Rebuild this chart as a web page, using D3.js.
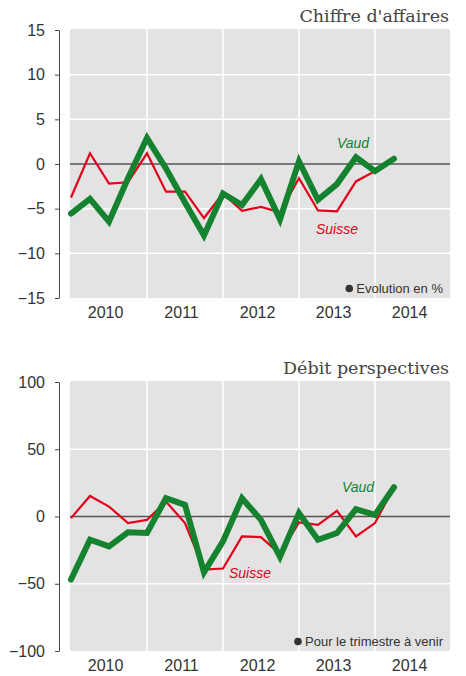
<!DOCTYPE html>
<html>
<head>
<meta charset="utf-8">
<script src="https://cdn.jsdelivr.net/npm/d3@7"></script>
<style>
  body { margin: 0; background: #fff; }
  svg { display: block; }
</style>
</head>
<body>
<svg width="466" height="676"></svg>
<script>
// Data (quarterly, 2010 Q1 .. 2014 Q2)
var years = ["2010", "2011", "2012", "2013", "2014"];

var caSuisse = [-3.75, 1.2, -2.2, -2.05, 1.2, -3.1, -3.1, -6.05, -3.3, -5.25, -4.8, -5.4, -1.6, -5.2, -5.3, -1.95, -0.8, 0.6];
var caVaud   = [-5.55, -3.9, -6.45, -1.6, 2.9, -0.5, -4.3, -8.0, -3.3, -4.6, -1.7, -6.2, 0.3, -4.0, -2.25, 0.75, -0.8, 0.6];
var caTicks  = [-15, -10, -5, 0, 5, 10, 15];

var dpSuisse = [-1.2, 15.3, 7.4, -4.9, -2.5, 11.1, -4.9, -39.5, -38.7, -14.8, -15.3, -28, -4.4, -6.2, 4.2, -14.8, -4.9, 21.8];
var dpVaud   = [-46.9, -17.3, -22.2, -11.8, -12.3, 13.6, 8.7, -41.5, -18.5, 13.6, -2.5, -30, 2.5, -17.3, -12.3, 5.5, 1.2, 21.8];
var dpTicks  = [-100, -50, 0, 50, 100];

var svg = d3.select("svg");

var green = "#15822f",
    red = "#e3001b";

var x = d3.scaleLinear()
  .domain([0, 19.95])
  .range([71, 450]);

function panel(opt) {
  var g = svg.append("g");
  var y = d3.scaleLinear().domain(opt.domain).range([opt.bottom, opt.top]);

  // grey background
  g.append("rect")
    .attr("x", 70).attr("y", opt.top - 1)
    .attr("width", 380).attr("height", opt.bottom - opt.top + 1)
    .attr("fill", "#e3e3e3");

  // horizontal grid
  g.selectAll(".hg")
    .data(opt.ticks.filter(function(t) { return t != 0 && t != opt.domain[0] && t != opt.domain[1]; }))
    .enter().append("line")
      .attr("x1", 70).attr("x2", 450)
      .attr("y1", function(d) { return y(d); })
      .attr("y2", function(d) { return y(d); })
      .attr("stroke", "#fff").attr("stroke-width", 1.5);

  // vertical grid at year starts
  g.selectAll(".vg")
    .data([1, 2, 3, 4])
    .enter().append("line")
      .attr("x1", function(d) { return x(d * 4); })
      .attr("x2", function(d) { return x(d * 4); })
      .attr("y1", opt.top - 1).attr("y2", opt.bottom)
      .attr("stroke", "#fff").attr("stroke-width", 1.5);

  // zero line
  g.append("line")
    .attr("x1", 70).attr("x2", 450)
    .attr("y1", y(0)).attr("y2", y(0))
    .attr("stroke", "#555").attr("stroke-width", 1.3);

  // y axis
  var axis = g.append("g")
    .attr("transform", "translate(59,0)")
    .call(d3.axisLeft(y).tickValues(opt.ticks).tickSize(4).tickSizeOuter(0).tickPadding(10));
  axis.select(".domain").attr("stroke", "#444");
  axis.selectAll(".tick line").attr("stroke", "#444");
  axis.selectAll("text")
    .attr("font-family", "Liberation Sans, Arial, sans-serif")
    .attr("font-size", 16)
    .attr("fill", "#333");

  // year labels
  g.selectAll(".yl")
    .data(years)
    .enter().append("text")
      .attr("x", function(d, i) { return x(i * 4 + 1.82); })
      .attr("y", opt.bottom + 20)
      .attr("text-anchor", "middle")
      .attr("font-family", "Liberation Sans, Arial, sans-serif")
      .attr("font-size", 16)
      .attr("fill", "#333")
      .text(function(d) { return d; });

  var line = d3.line()
    .x(function(d, i) { return x(i); })
    .y(function(d) { return y(d); });

  g.append("path")
    .datum(opt.suisse)
    .attr("d", line)
    .attr("fill", "none")
    .attr("stroke", red)
    .attr("stroke-width", 2.2)
    .attr("stroke-linejoin", "miter");

  g.append("path")
    .datum(opt.vaud)
    .attr("d", line)
    .attr("fill", "none")
    .attr("stroke", green)
    .attr("stroke-width", 6)
    .attr("stroke-linejoin", "miter")
    .attr("stroke-linecap", "round");

  // series labels
  g.append("text")
    .attr("x", opt.vaudLab[0]).attr("y", opt.vaudLab[1])
    .attr("text-anchor", "middle")
    .attr("font-family", "Liberation Sans, Arial, sans-serif")
    .attr("font-style", "italic").attr("font-size", 14)
    .attr("fill", green)
    .text("Vaud");
  g.append("text")
    .attr("x", opt.suisseLab[0]).attr("y", opt.suisseLab[1])
    .attr("text-anchor", "middle")
    .attr("font-family", "Liberation Sans, Arial, sans-serif")
    .attr("font-style", "italic").attr("font-size", 14)
    .attr("fill", red)
    .text("Suisse");

  // title
  g.append("text")
    .attr("x", 449).attr("y", opt.top - 8)
    .attr("text-anchor", "end")
    .attr("font-family", "DejaVu Serif, serif")
    .attr("font-size", 17.5)
    .attr("fill", "#444")
    .text(opt.title);

  // note
  var note = g.append("text")
    .attr("x", 443).attr("y", opt.bottom - 5)
    .attr("text-anchor", "end")
    .attr("font-family", "Liberation Sans, Arial, sans-serif")
    .attr("font-size", 13)
    .attr("fill", "#333")
    .text(opt.note);
  var w = note.node().getComputedTextLength();
  g.append("circle")
    .attr("cx", 443 - w - 7).attr("cy", opt.bottom - 9.5)
    .attr("r", 3.8)
    .attr("fill", "#333");
}

panel({
  title: "Chiffre d'affaires",
  note: "Evolution en %",
  domain: [-15, 15], ticks: caTicks,
  top: 30, bottom: 298,
  suisse: caSuisse, vaud: caVaud,
  vaudLab: [353, 148], suisseLab: [337, 234]
});

panel({
  title: "Débit perspectives",
  note: "Pour le trimestre à venir",
  domain: [-100, 100], ticks: dpTicks,
  top: 382, bottom: 651,
  suisse: dpSuisse, vaud: dpVaud,
  vaudLab: [358, 492], suisseLab: [250, 578]
});
</script>
</body>
</html>
